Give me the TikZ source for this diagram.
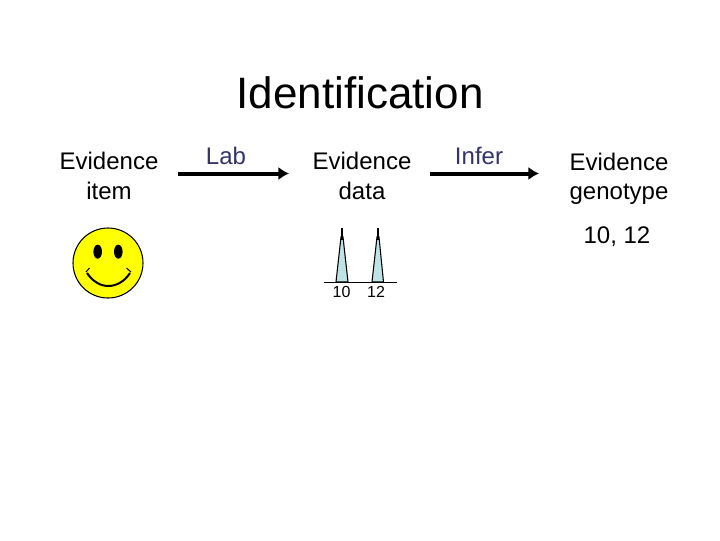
\documentclass[tikz,border=0pt]{standalone}
\usepackage{fontspec}
\setmainfont{Liberation Sans}
\usetikzlibrary{arrows.meta}
\definecolor{labelblue}{HTML}{333366}
\definecolor{peakfill}{HTML}{BFE3E6}
\definecolor{smile}{HTML}{FFFF00}
\begin{document}
\begin{tikzpicture}[x=0.75pt,y=-0.75pt,
  body/.style={font=\fontsize{18}{22}\selectfont,align=center,inner sep=0pt,text=black},
  steplabel/.style={font=\fontsize{18}{22}\selectfont,inner sep=0pt,text=labelblue},
  flow/.style={line width=3pt,-{Latex[length=8pt,width=10pt]}},
  peak/.style={draw=black,line width=0.8pt,fill=peakfill},
  peaktip/.style={line width=1.5pt},
  tick/.style={font=\fontsize{12}{14}\selectfont,inner sep=0pt}]
\useasboundingbox (0,0) rectangle (720,540);
\fill[white] (0,0) rectangle (720,540);
\node[inner sep=0pt,font=\fontsize{33}{40}\selectfont] (title) at (360,93) {Identification};
\node[body] (item) at (109,176) {Evidence\\item};
\node[body] (data) at (362,176) {Evidence\\data};
\node[body] (geno) at (619,179) {Evidence\\genotype};
\node[body] (gval) at (617,237) {10, 12};
\node[steplabel] (lab) at (226,156) {Lab};
\node[steplabel] (infer) at (479,156) {Infer};
\coordinate (a1) at (178,173.5);
\coordinate (a2) at (289,173.5);
\coordinate (b1) at (430,173.5);
\coordinate (b2) at (539,173.5);
\draw[flow] (a1) -- (a2);
\draw[flow] (b1) -- (b2);
% smiley
\fill[smile,draw=black,line width=0.8pt] (108,263) circle[radius=35];
\fill[black] (97.7,251.7) ellipse[x radius=4.3,y radius=7];
\fill[black] (118.3,251.7) ellipse[x radius=4.3,y radius=7];
\draw[black,line width=1.5pt] (87,273) .. controls (93,282) and (101,286) .. (108.3,286) .. controls (116,286) and (124,282) .. (130,273);
\draw[black,line width=0.8pt] (86,272) -- (89.5,268);
\draw[black,line width=0.8pt] (126.5,268) -- (131,272);
% peaks
\draw[peak] (336,282) -- (341,237) -- (343,237) -- (348,282) -- cycle;
\draw[peak] (372,282) -- (377,237) -- (379,237) -- (383.5,282) -- cycle;
\draw[peaktip] (342,228) -- (342,240);
\draw[peaktip] (378,228) -- (378,240);
\draw[black,line width=0.7pt] (324,282) -- (397,282);
\node[tick] (t10) at (341.5,292) {10};
\node[tick] (t12) at (376,292) {12};
\end{tikzpicture}
\end{document}
